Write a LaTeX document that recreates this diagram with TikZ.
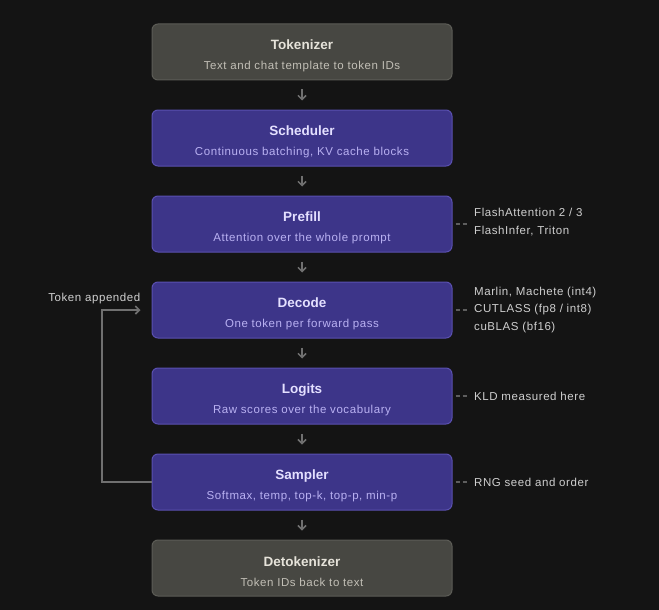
\documentclass[tikz,border=0pt]{standalone}
\usepackage{fontspec}
\setmainfont{Liberation Sans}
\newfontfamily\subfont[LetterSpace=5]{Liberation Sans}
\usetikzlibrary{positioning,arrows.meta}
\definecolor{bgcol}{HTML}{141414}
\definecolor{grayfill}{HTML}{474742}
\definecolor{grayline}{HTML}{5C5C56}
\definecolor{graytitle}{HTML}{E6E3DA}
\definecolor{graysub}{HTML}{C2BFB6}
\definecolor{purfill}{HTML}{3D3589}
\definecolor{purline}{HTML}{5A50B0}
\definecolor{purtitle}{HTML}{E4E0FF}
\definecolor{pursub}{HTML}{B9B1F2}
\definecolor{notecol}{HTML}{CFCFCF}
\definecolor{arrowcol}{HTML}{707070}
\definecolor{dashcol}{HTML}{5E5E5E}
\tikzset{
  stage/.style={draw, line width=1pt, rounded corners=6pt, minimum width=300pt,
    minimum height=56pt, align=center, inner sep=0pt},
  graystage/.style={stage, draw=grayline, fill=grayfill},
  purstage/.style={stage, draw=purline, fill=purfill},
  flow/.style={draw=arrowcol, line width=1.5pt, -{Straight Barb[length=4pt,width=8pt]},
    shorten <=9pt, shorten >=9pt},
  note/.style={text=notecol, font=\subfont\fontsize{11.5}{17.5}\selectfont, align=left,
    anchor=west, inner sep=0pt},
  tick/.style={draw=dashcol, line width=1.2pt, dash pattern=on 4pt off 3pt}
}
\newcommand{\graytext}[2]{\rule{0pt}{17pt}{\color{graytitle}\bfseries\fontsize{13.5}{15}\selectfont #1}\\[8pt]
  {\color{graysub}\subfont\fontsize{11.5}{13}\selectfont #2}}
\newcommand{\purtext}[2]{\rule{0pt}{17pt}{\color{purtitle}\bfseries\fontsize{13.5}{15}\selectfont #1}\\[8pt]
  {\color{pursub}\subfont\fontsize{11.5}{13}\selectfont #2}}
\begin{document}
\begin{tikzpicture}[x=1pt,y=-1pt]
\fill[bgcol] (0,0) rectangle (659,610);
\useasboundingbox (0,0) rectangle (659,610);
% pipeline stages
\node[graystage] (tok) at (302,52) {\graytext{Tokenizer}{Text and chat template to token IDs}};
\node[purstage] (sched) at (302,138) {\purtext{Scheduler}{Continuous batching, KV cache blocks}};
\node[purstage] (pre) at (302,224) {\purtext{Prefill}{Attention over the whole prompt}};
\node[purstage] (dec) at (302,310) {\purtext{Decode}{One token per forward pass}};
\node[purstage] (logit) at (302,396) {\purtext{Logits}{Raw scores over the vocabulary}};
\node[purstage] (samp) at (302,482) {\purtext{Sampler}{Softmax, temp, top-k, top-p, min-p}};
\node[graystage] (detok) at (302,568) {\graytext{Detokenizer}{Token IDs back to text}};
% flow arrows
\foreach \a/\b in {tok/sched,sched/pre,pre/dec,dec/logit,logit/samp,samp/detok}
  \draw[flow] (\a.south) -- (\b.north);
% side notes
\node[note] (preN) at (474,222) {FlashAttention 2 / 3\\FlashInfer, Triton};
\node[note] (decN) at (474,310) {Marlin, Machete (int4)\\CUTLASS (fp8 / int8)\\cuBLAS (bf16)};
\node[note] (logN) at (474,396) {KLD measured here};
\node[note] (sampN) at (474,482) {RNG seed and order};
\draw[tick] ([xshift=3pt]pre.east) -- ++(11,0);
\draw[tick] ([xshift=3pt]dec.east) -- ++(11,0);
\draw[tick] ([xshift=3pt]logit.east) -- ++(11,0);
\draw[tick] ([xshift=3pt]samp.east) -- ++(11,0);
% feedback loop
\coordinate (loopL) at (102,482);
\coordinate (loopT) at (102,310);
\coordinate (loopE) at ([xshift=-11pt]dec.west);
\draw[draw=arrowcol, line width=1.6pt, -{Straight Barb[length=4pt,width=8pt]}]
  (samp.west) -- (loopL) -- (loopT) -- (loopE);
\node[text=notecol, font=\subfont\fontsize{11.5}{13}\selectfont, anchor=south east,
  inner sep=0pt] (appN) at ([yshift=6pt]loopE) {Token appended};
\end{tikzpicture}
\end{document}
